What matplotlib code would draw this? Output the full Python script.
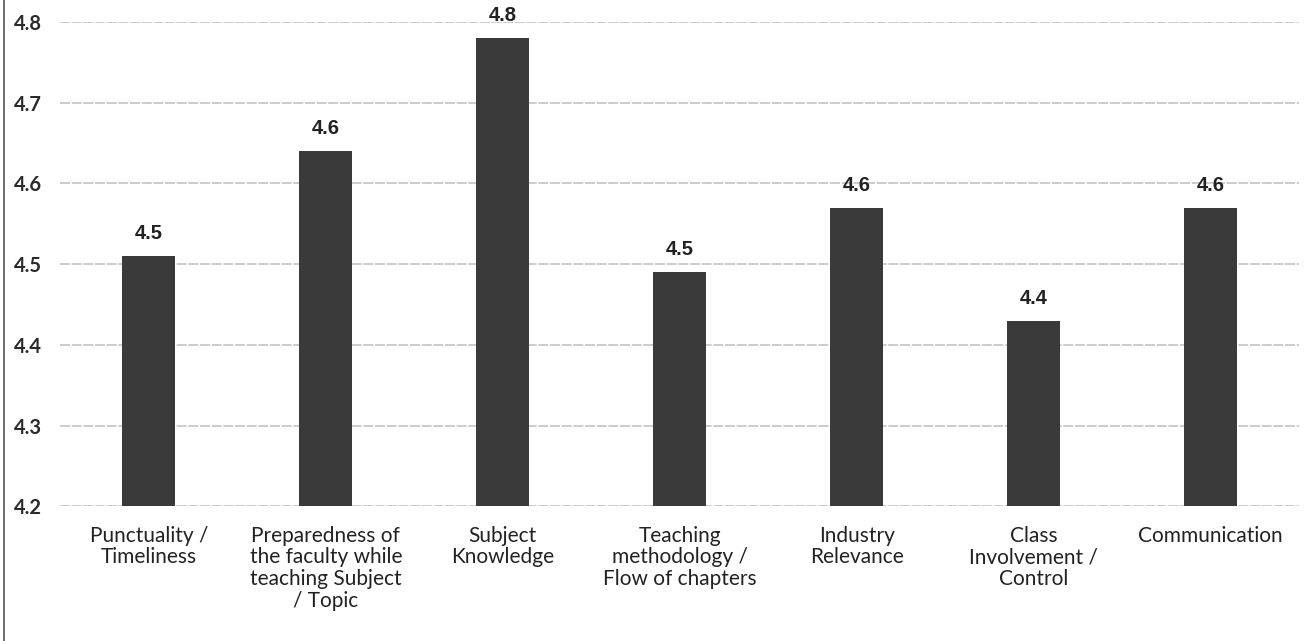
#! /usr/bin/env python

from matplotlib import pyplot as plt
from matplotlib.lines import Line2D
from numpy import arange

categories = ['Punctuality /\nTimeliness',
              'Preparedness of\nthe faculty while\nteaching Subject\n/ Topic',
              'Subject\nKnowledge',
              'Teaching\nmethodology /\nFlow of chapters',
              'Industry\nRelevance',
              'Class\nInvolvement /\nControl',
              'Communication']
scores = [4.51, 4.64, 4.78, 4.49, 4.57, 4.43, 4.57]
yticks = [4.2, 4.3, 4.4, 4.5, 4.6, 4.7, 4.8]


def main():
  fig = plt.figure(figsize=(13.11, 6.41), dpi=100)
  ax = fig.add_axes([0.046, 0.21, 0.945, 0.756])
  pos = arange(len(categories))
  ax.bar(pos, [s - yticks[0] for s in scores], bottom=yticks[0],
         width=0.3, color='#3a3a3a', zorder=3)
  for x, s in zip(pos, scores):
    ax.text(x, s + 0.016, '%.1f' % s, ha='center', va='bottom',
            fontsize=14.5, fontweight='bold', family='Liberation Sans',
            color='#222222', zorder=4)
  ax.set_xlim(-0.5, len(categories) - 0.5)
  ax.set_ylim(yticks[0], yticks[-1])
  ax.set_yticks(yticks)
  ax.set_yticklabels(['%.1f' % t for t in yticks], fontsize=14.5,
                     family='Lato', fontweight='bold', color='#2a2a2a')
  ax.set_xticks(pos)
  ax.set_xticklabels(categories, fontsize=15, family='Lato',
                     color='#222222', va='top', linespacing=1.1)
  ax.tick_params(axis='both', length=0)
  ax.tick_params(axis='x', pad=14)
  ax.tick_params(axis='y', pad=13)
  for sp in ax.spines.values():
    sp.set_visible(False)
  ax.grid(axis='y', color='#c4c4c4', linewidth=1.2, linestyle=(0, (6, 1)),
          zorder=0)
  # left edge of the scanned page
  fig.add_artist(Line2D([0.003, 0.003], [0, 1], color='#555555',
                        linewidth=1.2, transform=fig.transFigure))
  fig.savefig('out.png', dpi=100)


if __name__ == "__main__":
  main()
